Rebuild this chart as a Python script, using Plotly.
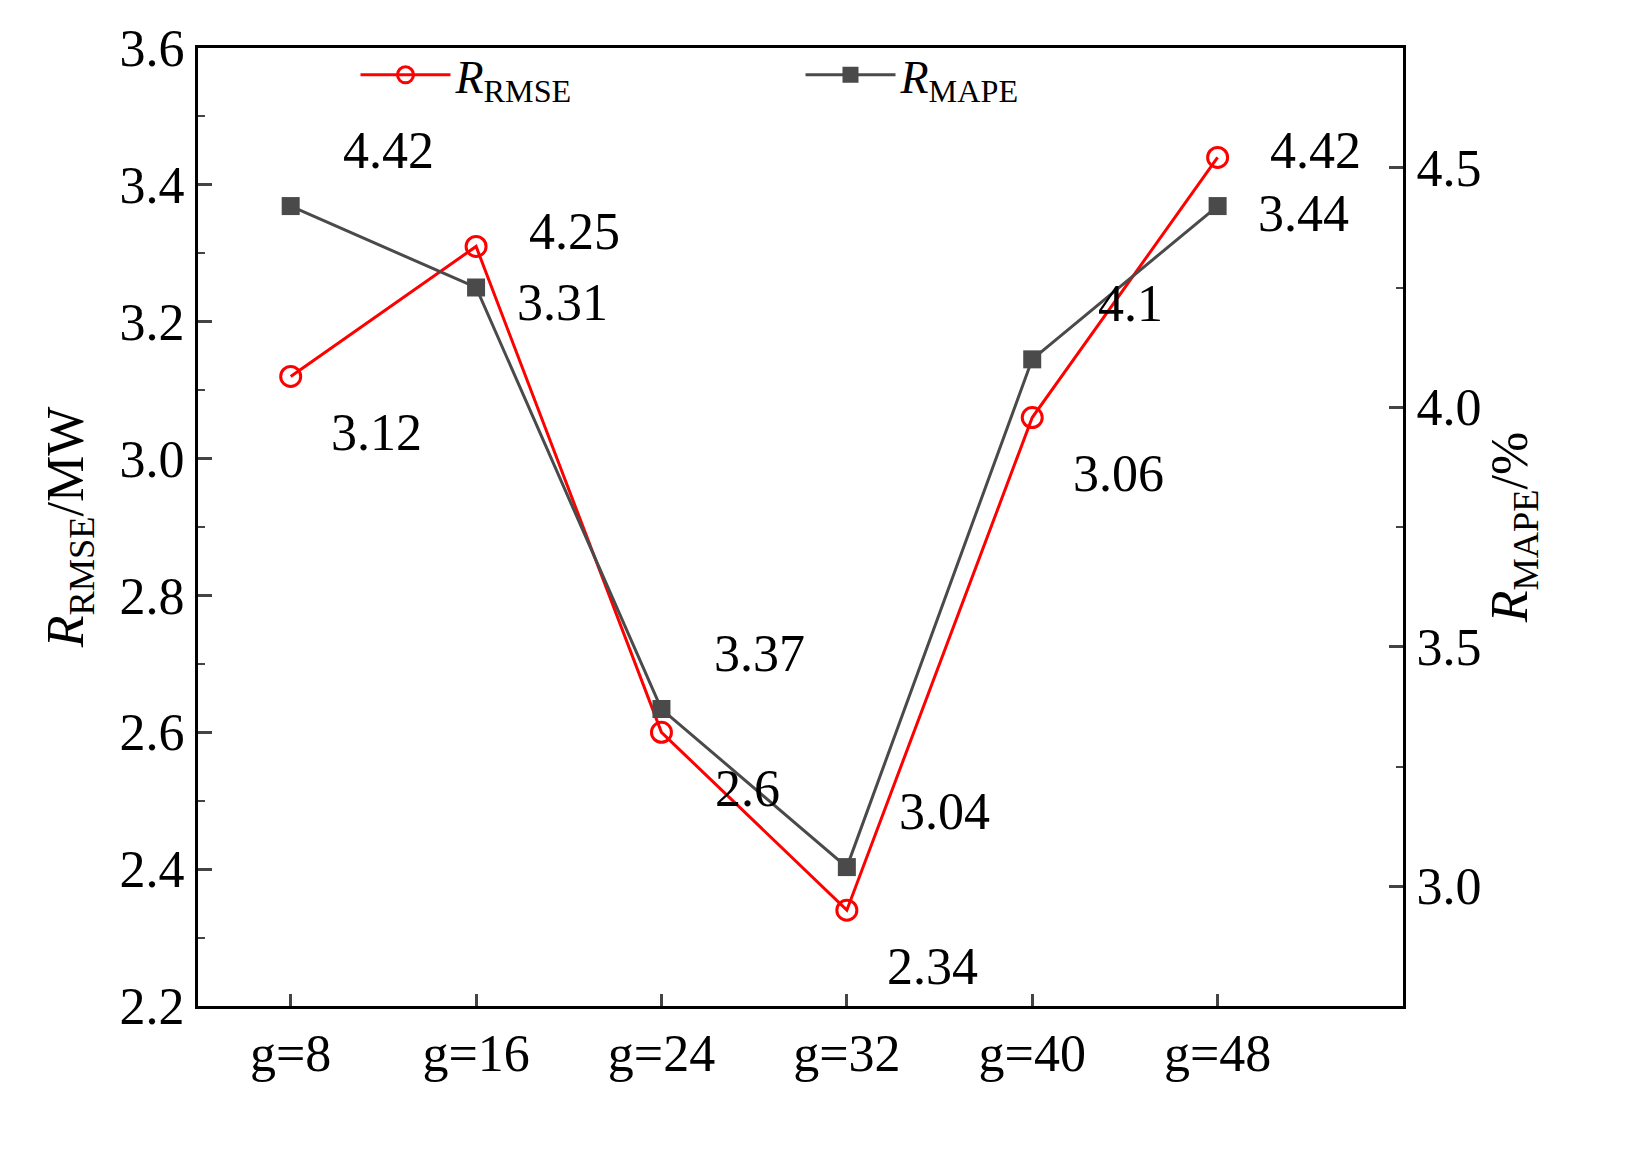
import plotly.graph_objects as go

categories = ["g=8", "g=16", "g=24", "g=32", "g=40", "g=48"]
rmse = [3.12, 3.31, 2.6, 2.34, 3.06, 3.44]
mape = [4.42, 4.25, 3.37, 3.04, 4.1, 4.42]
xs = list(range(len(categories)))

F = "Liberation Serif"
fig = go.Figure()
fig.add_trace(go.Scatter(x=xs, y=rmse, name="<i>R</i><sub>RMSE</sub>", mode="lines+markers",
    line=dict(color="#ff0000", width=3),
    marker=dict(symbol="circle-open", size=20, color="#ff0000", line=dict(width=3))))
fig.add_trace(go.Scatter(x=xs, y=mape, name="<i>R</i><sub>MAPE</sub>", mode="lines+markers", yaxis="y2",
    line=dict(color="#4a4a4a", width=3),
    marker=dict(symbol="square", size=18, color="#4a4a4a")))

ann = []
for x, v in zip(xs, rmse):
    ann.append(dict(x=x, y=v, xref="x", yref="y", text=str(v), showarrow=False,
                    xshift=86, yshift=-56, font=dict(family=F, size=52, color="black")))
for x, v in zip(xs, mape):
    ann.append(dict(x=x, y=v, xref="x", yref="y2", text=str(v), showarrow=False,
                    xshift=98, yshift=56, font=dict(family=F, size=52, color="black")))

fig.update_layout(
    width=1645, height=1151, plot_bgcolor="white", paper_bgcolor="white",
    margin=dict(l=190, r=250, t=29, b=153),
    font=dict(family=F, size=50, color="black"),
    showlegend=True,
    legend=dict(orientation="h", x=0.5, xanchor="center", y=1.01, yanchor="top",
                font=dict(family=F, size=46), bgcolor="rgba(0,0,0,0)", itemwidth=90,
                entrywidth=340, entrywidthmode="pixels"),
    annotations=ann,
    xaxis=dict(range=[-0.5, 6.0], tickvals=xs, ticktext=categories, showline=True, linecolor="black",
               linewidth=3, mirror=True, ticks="inside", ticklen=12, tickwidth=3, showgrid=False,
               zeroline=False, tickfont=dict(family=F, size=52)),
    yaxis=dict(range=[2.2, 3.6], dtick=0.2, tickformat=".1f", showline=True, linecolor="black",
               linewidth=3, ticks="inside", ticklen=14, tickwidth=3, showgrid=False, zeroline=False,
               minor=dict(dtick=0.1, ticks="inside", ticklen=7, tickwidth=2),
               title=dict(text="<i>R</i><sub>RMSE</sub>/MW", font=dict(family=F, size=52), standoff=20),
               tickfont=dict(family=F, size=52)),
    yaxis2=dict(range=[2.75, 4.75], overlaying="y", side="right", tickvals=[3.0, 3.5, 4.0, 4.5],
                tickformat=".1f", showline=True, linecolor="black", linewidth=3, ticks="inside",
                ticklen=14, tickwidth=3, showgrid=False, zeroline=False,
                minor=dict(dtick=0.25, ticks="inside", ticklen=7, tickwidth=2),
                title=dict(text="<i>R</i><sub>MAPE</sub>/%", font=dict(family=F, size=52), standoff=5),
                tickfont=dict(family=F, size=52)),
)
fig.write_html("out.html")
